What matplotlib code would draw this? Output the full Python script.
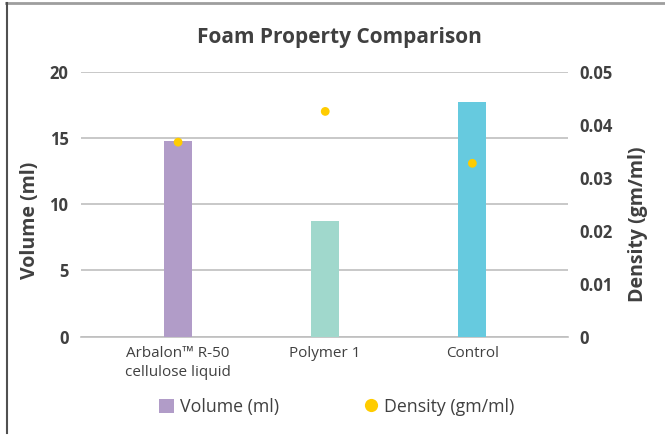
import numpy as np
import matplotlib
matplotlib.use("Agg")
import matplotlib.pyplot as plt
from matplotlib.lines import Line2D
from matplotlib.patches import Patch

plt.rcParams['font.family'] = ['Open Sans', 'DejaVu Sans']

categories = ['Arbalon\u2122 R-50\ncellulose liquid', 'Polymer 1', 'Control']
volume = [14.8, 8.7, 17.7]
density = [0.0367, 0.0425, 0.0327]
bar_colors = ['#B19CC8', '#A0D8CC', '#66CADF']
vol_ticks = [0, 5, 10, 15, 20]
dens_ticks = [0, 0.01, 0.02, 0.03, 0.04, 0.05]
dens_labels = ['0', '0.01', '0.02', '0.03', '0.04', '0.05']

TXT = '#404040'
W, H = 665, 438
fig = plt.figure(figsize=(W / 100, H / 100), dpi=100)
ax = fig.add_axes([81 / W, 1 - 336.5 / H, (568 - 81) / W, (336.5 - 71.7) / H])
ax2 = ax.twinx()

x = np.arange(len(categories))
ax.bar(x, volume, width=0.19, color=bar_colors, zorder=3)
ax2.scatter(x, density, s=40, color='#FFCC00', zorder=4, edgecolors='none')

ax.set_xlim(-0.66, 2.65)
ax.set_ylim(0, 20)
ax.set_yticks(vol_ticks)
ax2.set_ylim(0, 0.05)
ax2.set_yticks(dens_ticks)
ax2.set_yticklabels(dens_labels)

ax.grid(axis='y', color='#BFBFBF', linewidth=1.2, zorder=0)
for a in (ax, ax2):
    for s in a.spines.values():
        s.set_visible(False)
    a.tick_params(length=0, colors=TXT)
ax.spines['bottom'].set_visible(True)
ax.spines['bottom'].set_color('#BFBFBF')
ax.spines['bottom'].set_linewidth(1.2)

ax.set_xticks(x)
ax.set_xticklabels(categories, fontsize=11, color=TXT, linespacing=1.3)
ax.tick_params(axis='x', pad=7)
for lab in ax.get_yticklabels() + ax2.get_yticklabels():
    lab.set_fontweight('bold'); lab.set_fontsize(12)
ax.tick_params(axis='y', pad=9)
ax2.tick_params(axis='y', pad=8)

# axis titles placed in figure pixels
fig.text(30 / W, 1 - 220 / H, 'Volume (ml)', rotation=90, ha='center', va='center',
         fontsize=14, fontweight='bold', color=TXT)
fig.text(638 / W, 1 - 224 / H, 'Density (gm/ml)', rotation=90, ha='center', va='center',
         fontsize=14, fontweight='bold', color=TXT)

fig.text(339 / W, 1 - 38 / H, 'Foam Property Comparison', ha='center', va='center',
         fontsize=15, fontweight='bold', color=TXT)

handles = [Patch(facecolor='#B19CC8', label='Volume (ml)'),
           Line2D([], [], marker='o', linestyle='none', markersize=9.5,
                  markerfacecolor='#FFCC00', markeredgecolor='none', label='Density (gm/ml)')]
fig.legend(handles=handles, loc='center', bbox_to_anchor=(337 / W, 1 - 407 / H), ncol=2,
           frameon=False, fontsize=12.8, labelcolor=TXT, handlelength=0.85, handleheight=0.85,
           handletextpad=0.35, columnspacing=4.7)

# frame lines at top and left
fig.add_artist(Line2D([6 / W, 1], [1 - 3 / H, 1 - 3 / H], color='#9E9E9E', linewidth=2))
fig.add_artist(Line2D([6.5 / W, 6.5 / W], [1 - 3 / H, 1 - 433 / H], color='#505050', linewidth=1.5))

fig.savefig('out.png', dpi=100)
